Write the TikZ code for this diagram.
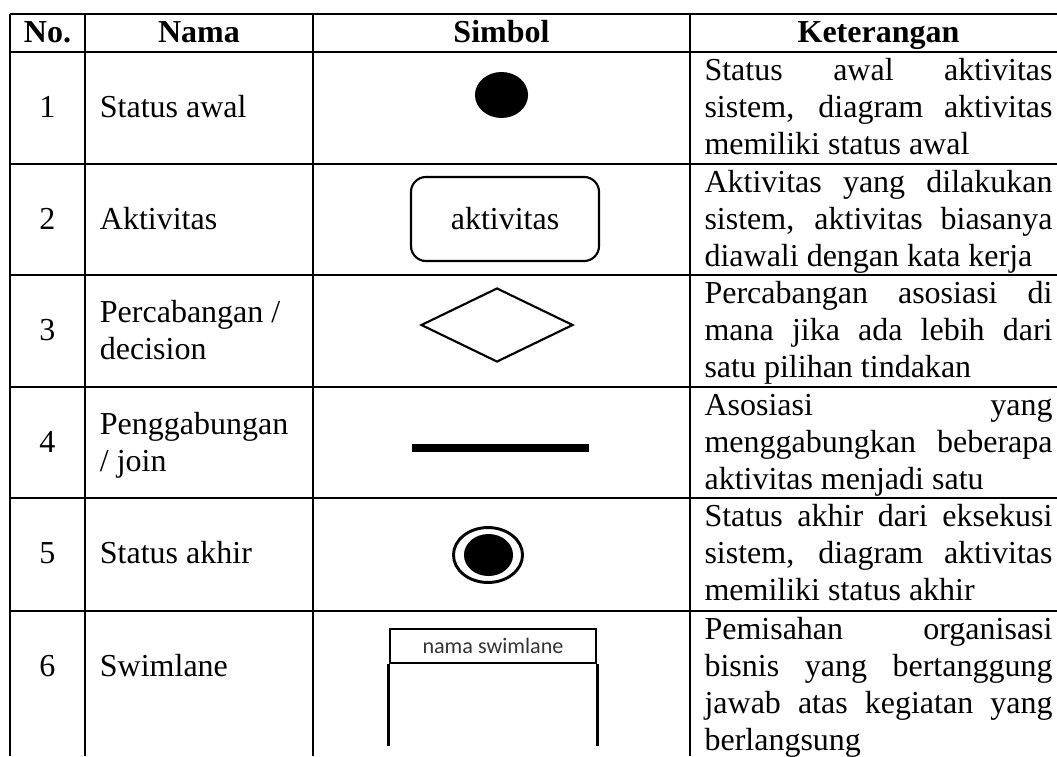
\documentclass[tikz,border=0pt]{standalone}
\usepackage{fontspec}
\setmainfont{Liberation Serif}
\newfontfamily\swfont{Carlito}
\usetikzlibrary{shapes.geometric}
\newcommand\jline[1]{\makebox[\linewidth][s]{#1}}
\newcommand\desc[1]{\parbox[t]{130.5pt}{\fontsize{12}{13.875}\selectfont #1}}
\newcommand\twol[1]{\parbox[t]{80pt}{\fontsize{12}{13.875}\selectfont #1}}
\begin{document}
\begin{tikzpicture}[x=0.375pt,y=-0.375pt,
  rule/.style={line width=0.8pt},
  txt/.style={inner sep=0pt, font=\fontsize{12}{13.875}\selectfont},
  hdr/.style={inner sep=0pt, font=\fontsize{12}{13.875}\selectfont\bfseries, anchor=base},
  num/.style={txt, anchor=base},
  nm/.style={txt, anchor=base west},
  dsc/.style={inner sep=0pt, anchor=base west},
  sym/.style={line width=0.8pt}
]
\useasboundingbox (0,0) rectangle (1057,756);
% table rules
\foreach \yy in {14,52,164,275,387,498,611}{\draw[rule] (10,\yy) -- (1057,\yy);}
\foreach \xx in {10,85,313,690}{\draw[rule] (\xx,14) -- (\xx,756);}
% header
\node[hdr] (h1) at (47.5,43) {No.};
\node[hdr] (h2) at (199,43) {Nama};
\node[hdr] (h3) at (501.5,43) {Simbol};
\node[hdr] (h4) at (878.5,43) {Keterangan};
% numbers
\node[num] (n1) at (47.5,117.75) {1};
\node[num] (n2) at (47.5,229.75) {2};
\node[num] (n3) at (47.5,340.75) {3};
\node[num] (n4) at (47.5,452.75) {4};
\node[num] (n5) at (47.5,563.75) {5};
\node[num] (n6) at (47.5,676.75) {6};
% names
\node[nm] (a1) at (99.4,117.75) {Status awal};
\node[nm] (a2) at (99.4,229.75) {Aktivitas};
\node[nm] (a3) at (99.4,322.25) {\twol{Percabangan /\\decision}};
\node[nm] (a4) at (99.4,434.25) {\twol{Penggabungan\\/ join}};
\node[nm] (a5) at (99.4,563.75) {Status akhir};
\node[nm] (a6) at (99.4,676.75) {Swimlane};
% descriptions
\node[dsc] (d1) at (704,80.5) {\desc{\jline{Status awal aktivitas}\\\jline{sistem, diagram aktivitas}\\memiliki status awal}};
\node[dsc] (d2) at (704,192.5) {\desc{\jline{Aktivitas yang dilakukan}\\\jline{sistem, aktivitas biasanya}\\diawali dengan kata kerja}};
\node[dsc] (d3) at (704,303.5) {\desc{\jline{Percabangan asosiasi di}\\\jline{mana jika ada lebih dari}\\satu pilihan tindakan}};
\node[dsc] (d4) at (704,415.5) {\desc{\jline{Asosiasi yang}\\\jline{menggabungkan beberapa}\\aktivitas menjadi satu}};
\node[dsc] (d5) at (704,526.5) {\desc{\jline{Status akhir dari eksekusi}\\\jline{sistem, diagram aktivitas}\\memiliki status akhir}};
\node[dsc] (d6) at (704,639.5) {\desc{\jline{Pemisahan organisasi}\\\jline{bisnis yang bertanggung}\\\jline{jawab atas kegiatan yang}\\berlangsung}};
% symbols
\node[ellipse, fill=black, inner sep=0pt, minimum width=19.9pt, minimum height=17.25pt] (init) at (501.5,95) {};
\node[sym, draw, rounded corners=5.6pt, minimum width=70.5pt, minimum height=31.5pt, inner sep=0pt, font=\fontsize{12}{13.875}\selectfont] (act) at (505,219) {aktivitas};
\node[sym, diamond, draw, inner sep=0pt, minimum width=57pt, minimum height=27.75pt] (dec) at (497,325) {};
\node[fill=black, inner sep=0pt, minimum width=66.4pt, minimum height=3pt] (join) at (500.5,448) {};
\node[ellipse, draw, line width=1.1pt, inner sep=0pt, minimum width=25.9pt, minimum height=20.6pt] (fin) at (488,555) {};
\node[ellipse, fill=black, inner sep=0pt, minimum width=18.4pt, minimum height=15.75pt] (finin) at (488.5,555) {};
% swimlane
\node[draw, line width=1.1pt, inner sep=0pt, minimum width=77.25pt, minimum height=12.75pt, font=\swfont\fontsize{8.3}{10}\selectfont, text=black!80] (swim) at (493,646) {nama swimlane};
\coordinate (swend) at (493,746);
\draw[line width=1.1pt] (swim.south west) -- (swim.south west |- swend);
\draw[line width=1.1pt] (swim.south east) -- (swim.south east |- swend);
\end{tikzpicture}
\end{document}
